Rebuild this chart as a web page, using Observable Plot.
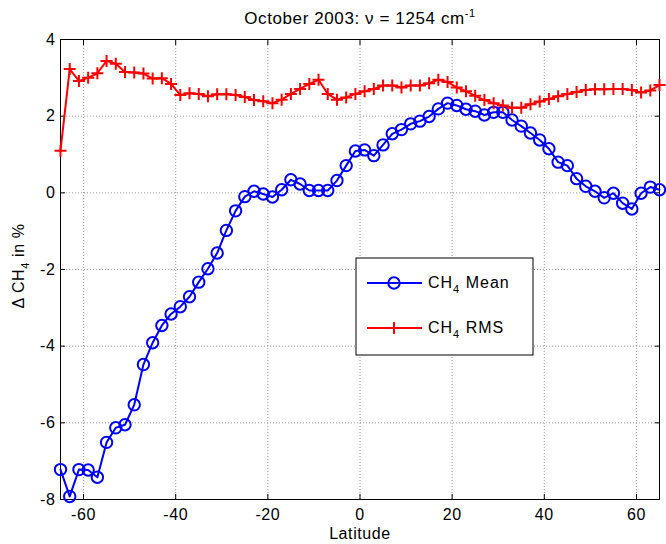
<!DOCTYPE html>
<html><head><meta charset="utf-8">
<script src="https://cdn.jsdelivr.net/npm/d3@7"></script>
<script src="https://cdn.jsdelivr.net/npm/@observablehq/plot@0.6"></script>
<style>html,body{margin:0;padding:0;background:#fff;}</style>
</head><body><div id="chart"></div>
<script>
const latitude = [-65,-63,-61,-59,-57,-55,-53,-51,-49,-47,-45,-43,-41,-39,-37,-35,-33,-31,-29,-27,
  -25,-23,-21,-19,-17,-15,-13,-11,-9,-7,-5,-3,-1,1,3,5,7,9,11,13,15,17,19,21,23,25,27,29,31,33,
  35,37,39,41,43,45,47,49,51,53,55,57,59,61,63,65];
const ch4Mean = [-7.22,-7.92,-7.22,-7.23,-7.42,-6.51,-6.13,-6.05,-5.53,-4.48,-3.91,-3.46,-3.16,-2.97,-2.71,-2.33,-1.98,-1.57,-0.98,-0.47,
  -0.10,0.04,-0.03,-0.11,0.08,0.34,0.23,0.06,0.06,0.06,0.32,0.71,1.09,1.12,0.97,1.25,1.54,1.65,1.80,1.87,
  1.99,2.19,2.34,2.28,2.18,2.13,2.03,2.10,2.10,1.90,1.74,1.56,1.38,1.15,0.80,0.71,0.37,0.17,0.04,-0.13,
  -0.01,-0.27,-0.42,-0.01,0.15,0.08];
const ch4Rms = [1.10,3.23,2.92,3.00,3.12,3.44,3.37,3.15,3.14,3.11,2.98,2.99,2.84,2.55,2.60,2.58,2.52,2.57,2.57,2.55,
  2.50,2.42,2.39,2.34,2.43,2.58,2.71,2.84,2.95,2.58,2.43,2.49,2.58,2.65,2.71,2.80,2.80,2.75,2.80,2.80,
  2.86,2.95,2.89,2.75,2.65,2.53,2.42,2.34,2.28,2.22,2.22,2.31,2.38,2.45,2.52,2.58,2.63,2.68,2.70,2.70,
  2.71,2.71,2.68,2.62,2.67,2.81];
const xTicks = [-60,-40,-20,0,20,40,60];
const yTicks = [-8,-6,-4,-2,0,2,4];
const seriesLabels = ["Mean","RMS"];

const meanData = latitude.map((lat,i)=>({lat, v: ch4Mean[i]}));
const rmsData = latitude.map((lat,i)=>({lat, v: ch4Rms[i]}));

const plusSymbol = {draw(ctx, size){ const r = Math.sqrt(size/Math.PI); ctx.moveTo(-r,0); ctx.lineTo(r,0); ctx.moveTo(0,-r); ctx.lineTo(0,r);} };
const FONT = "'Liberation Sans', Arial, Helvetica, sans-serif";
const gridStyle = {stroke:"#9a9a9a", strokeOpacity:1, strokeDasharray:"1,2", strokeWidth:1};
const fmt = d => String(d);
const tickOnly = {tickSize:-5, label:null, stroke:"black", fill:"none"};

const chart = Plot.plot({
  width: 666, height: 544,
  marginTop: 39, marginBottom: 45, marginLeft: 60, marginRight: 7,
  x: {domain: [-65, 65]},
  y: {domain: [-8, 4]},
  style: {fontFamily: FONT, fontSize: "16px", background: "white", color: "black", letterSpacing: "0.6px"},
  marks: [
    Plot.gridX(xTicks, gridStyle),
    Plot.gridY(yTicks, gridStyle),
    Plot.axisX(xTicks, {anchor:"bottom", ...tickOnly}),
    Plot.axisX(xTicks, {anchor:"top", ...tickOnly}),
    Plot.axisY(yTicks, {anchor:"left", ...tickOnly}),
    Plot.axisY(yTicks, {anchor:"right", ...tickOnly}),
    Plot.axisX(xTicks, {anchor:"bottom", tickSize:0, tickPadding:9, tickFormat:fmt, label:null, fontSize:16, fill:"black"}),
    Plot.axisY(yTicks, {anchor:"left", tickSize:0, tickPadding:5, tickFormat:fmt, label:null, fontSize:16, fill:"black"}),
    Plot.frame({stroke:"black", strokeWidth:1}),
    Plot.line(meanData, {x:"lat", y:"v", stroke:"#0000ff", strokeWidth:2}),
    Plot.dot(meanData, {x:"lat", y:"v", r:5.7, stroke:"#0000ff", strokeWidth:2, fill:"none"}),
    Plot.line(rmsData, {x:"lat", y:"v", stroke:"#ff0000", strokeWidth:2}),
    Plot.dot(rmsData, {x:"lat", y:"v", r:6, symbol: plusSymbol, stroke:"#ff0000", strokeWidth:2, fill:"none"})
  ]
});
document.getElementById("chart").appendChild(chart);

const svg = d3.select(chart);
const T = (sel) => sel.attr("font-family", FONT).attr("fill", "black").style("letter-spacing","0.6px");

// Title
const title = svg.append("text").call(T).attr("x", 360).attr("y", 24).attr("text-anchor","middle").attr("font-size", 17);
title.append("tspan").text("October 2003: ν = 1254 cm");
title.append("tspan").attr("dy", -7).attr("font-size", 11).text("-1");

// X label
svg.append("text").call(T).attr("x", 360).attr("y", 539).attr("text-anchor","middle").attr("font-size", 16).text("Latitude");

// Y label
const yl = svg.append("text").call(T).attr("transform","translate(24,266) rotate(-90)").attr("text-anchor","middle").attr("font-size",16);
yl.append("tspan").text("Δ CH");
yl.append("tspan").attr("dy", 5).attr("font-size", 11).text("4");
yl.append("tspan").attr("dy", -5).text(" in %");

// Legend
const lg = svg.append("g");
lg.append("rect").attr("x",356).attr("y",258).attr("width",177).attr("height",97).attr("fill","white").attr("stroke","black").attr("stroke-width",1);
const colors = ["#0000ff","#ff0000"];
seriesLabels.forEach((name,i)=>{
  const y = 283 + i*45;
  lg.append("line").attr("x1",367).attr("x2",422).attr("y1",y).attr("y2",y).attr("stroke",colors[i]).attr("stroke-width",2);
  if (i===0) lg.append("circle").attr("cx",394).attr("cy",y).attr("r",5.7).attr("fill","none").attr("stroke",colors[i]).attr("stroke-width",2);
  else lg.append("path").attr("d",`M388,${y}H400M394,${y-6}V${y+6}`).attr("stroke",colors[i]).attr("stroke-width",2);
  const t = lg.append("text").call(T).attr("x",428).attr("y",y+5).attr("text-anchor","start").attr("font-size",16).style("letter-spacing","1px");
  t.append("tspan").text("CH");
  t.append("tspan").attr("dy",5).attr("font-size",11).text("4");
  t.append("tspan").attr("dy",-5).text(" " + name);
});
</script>
</body></html>
